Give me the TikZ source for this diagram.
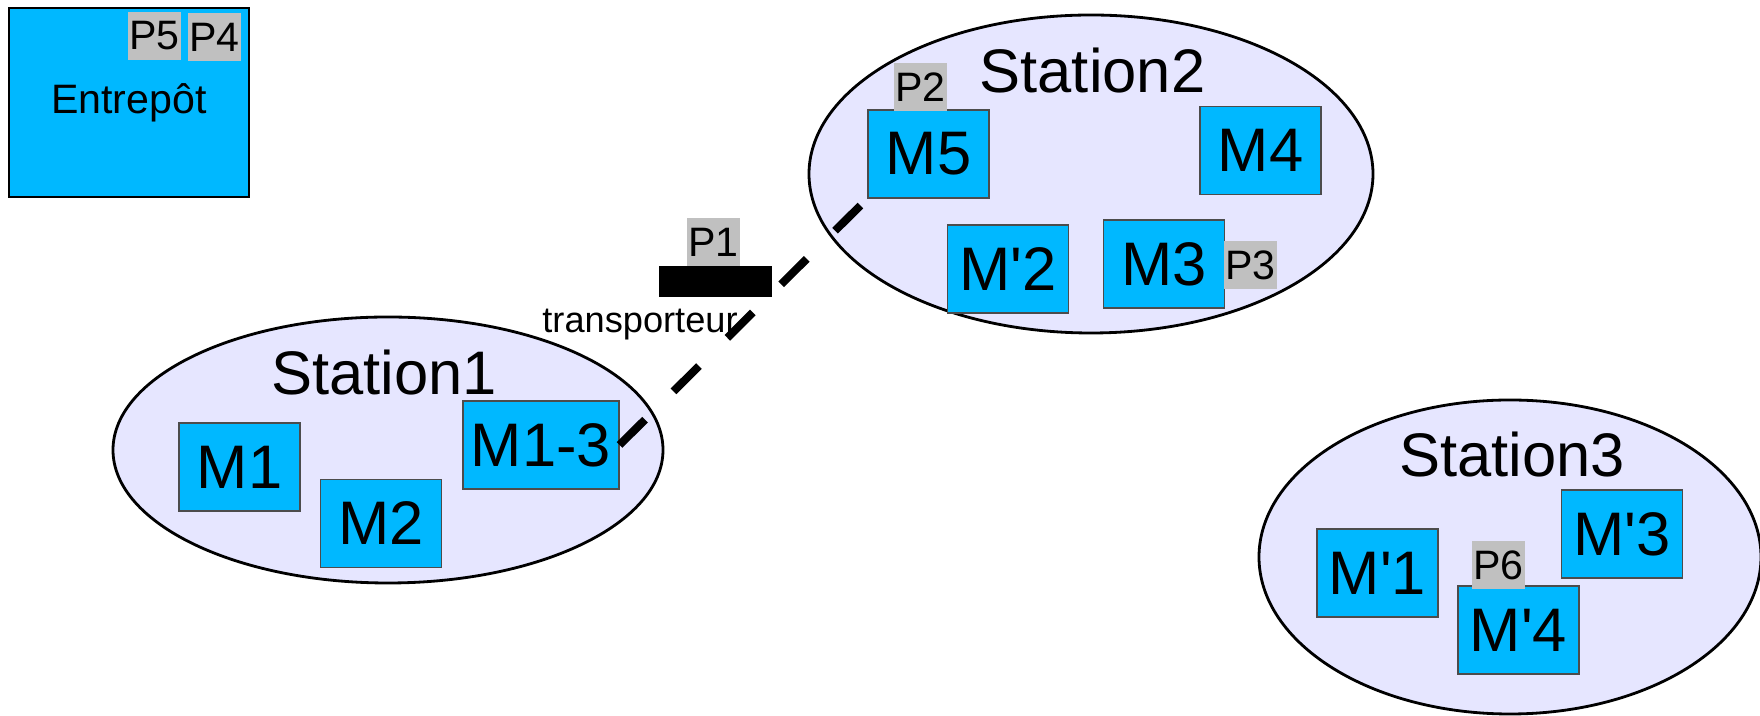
\documentclass[tikz,border=0pt]{standalone}
\usepackage{fontspec}
\setmainfont{Liberation Sans}[Ligatures=TeXOff]
\usetikzlibrary{shapes.geometric}

\definecolor{machinecyan}{RGB}{0,184,255}
\definecolor{stationfill}{RGB}{230,230,255}
\definecolor{partgray}{RGB}{192,192,192}

\begin{document}
\begin{tikzpicture}[
	station/.style={ellipse, draw, fill=stationfill, line width=0.8pt, inner sep=0pt},
	machine/.style={rectangle, draw=black!70, line width=0.3pt, fill=machinecyan, minimum width=1.21cm, minimum height=0.88cm, inner sep=0pt, font=\fontsize{17.5}{20}\selectfont},
	part/.style={rectangle, fill=partgray, minimum width=0.53cm, minimum height=0.48cm, inner sep=0pt, font=\fontsize{11.7}{14}\selectfont},
	title/.style={anchor=base, font=\fontsize{17.5}{20}\selectfont},
	rail/.style={line width=0.08cm, dash pattern=on 0.36cm off 0.40cm}]
	\useasboundingbox (0,0) rectangle (17.6,7.16);

	% warehouse
	\node[draw, line width=0.45pt, fill=machinecyan, minimum width=2.40cm, minimum height=1.89cm, inner sep=0pt, font=\fontsize{11.7}{14}\selectfont] (depot) at (1.29, 6.135) {Entrepôt};
	\node[part] (p5) at (1.545, 6.80) {P5};
	\node[part] (p4) at (2.145, 6.79) {P4};

	% stations
	\node[station, minimum width=5.50cm, minimum height=2.66cm] (st1) at (3.88, 2.66) {};
	\node[station, minimum width=5.64cm, minimum height=3.18cm] (st2) at (10.91, 5.42) {};
	\node[station, minimum width=5.02cm, minimum height=3.14cm] (st3) at (15.10, 1.59) {};
	\node[title] (st1lbl) at (3.84, 3.21) {Station1};
	\node[title] (st2lbl) at (10.925, 6.23) {Station2};
	\node[title] (st3lbl) at (15.12, 2.39) {Station3};

	% machines of station 1
	\node[machine] (m1) at (2.395, 2.49) {M1};
	\node[machine] (m2) at (3.81, 1.925) {M2};
	\node[machine, minimum width=1.56cm] (m13) at (5.41, 2.71) {M1-3};

	% machines of station 2
	\node[machine] (m5) at (9.285, 5.62) {M5};
	\node[machine] (m2p) at (10.08, 4.47) {M'2};
	\node[machine] (m3) at (11.64, 4.52) {M3};
	\node[machine] (m4) at (12.605, 5.655) {M4};
	\node[part] (p2) at (9.205, 6.29) {P2};
	\node[part] (p3) at (12.505, 4.505) {P3};

	% machines of station 3
	\node[machine] (m1p) at (13.775, 1.43) {M'1};
	\node[machine] (m4p) at (15.185, 0.86) {M'4};
	\node[machine] (m3p) at (16.22, 1.82) {M'3};
	\node[part] (p6) at (14.985, 1.505) {P6};

	% transporter on its track
	\draw[rail, shorten >=0.1cm] (m13.east) -- (m5.south west);
	\node[fill=black, minimum width=1.13cm, minimum height=0.31cm, inner sep=0pt] (cart) at (7.155, 4.345) {};
	\node[part] (p1) at (7.135, 4.735) {P1};
	\node[anchor=base, font=\fontsize{10.3}{12}\selectfont] (cartlbl) at (6.40, 3.83) {transporteur};
\end{tikzpicture}
\end{document}
